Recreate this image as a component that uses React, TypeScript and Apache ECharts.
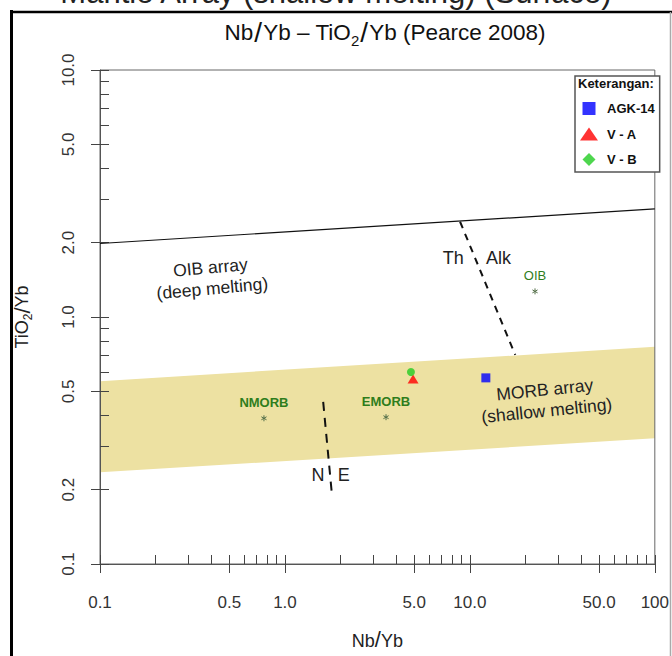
import React, { useEffect, useRef } from 'react';
import * as echarts from 'echarts';

const FONT = "'Liberation Sans', Arial, Helvetica, sans-serif";

// axis ticks
const xMajorTicks = [0.1, 0.5, 1, 5, 10, 50, 100];
const xMajorLabels = ['0.1', '0.5', '1.0', '5.0', '10.0', '50.0', '100'];
const xMinorTicks = [0.2, 0.3, 0.4, 0.6, 0.7, 0.8, 0.9, 2, 3, 4, 6, 7, 8, 9, 20, 30, 40, 60, 70, 80, 90];
const yMajorTicks = [0.1, 0.2, 0.5, 1, 2, 5, 10];
const yMajorLabels = ['0.1', '0.2', '0.5', '1.0', '2.0', '5.0', '10.0'];
const yMinorTicks = [0.3, 0.4, 0.6, 0.7, 0.8, 0.9, 3, 4, 6, 7, 8, 9];

// field boundaries
const morbUpper = [[0.1, 0.55], [100, 0.757]];
const morbLower = [[0.1, 0.235], [100, 0.323]];
const oibArray = [[0.1, 1.984], [100, 2.74]];
const thAlkDivider = [[8.85, 2.43], [17.6, 0.702]];
const neDivider = [[1.61, 0.453], [1.8, 0.187]];

// reference compositions
const refNames = ['NMORB', 'EMORB', 'OIB'];
const refPoints = [[0.77, 0.389], [3.52, 0.393], [22.5, 1.27]];

// samples
const agk14 = [[12.2, 0.567]];
const vA = [[4.93, 0.561]];
const vB = [[4.8, 0.599]];

// annotations
const annoTexts = ['OIB array\n(deep melting)', 'MORB array\n(shallow melting)', 'Th', 'Alk', 'N', 'E'];
const annoPoints = [[0.4, 1.44], [25.7, 0.461], [8.12, 1.73], [14.3, 1.73], [1.51, 0.229], [2.08, 0.229]];

const nearestLabel = (ticks: number[], labels: string[]) => (v: number) => {
  let best = 0;
  ticks.forEach((t, i) => {
    if (Math.abs(Math.log10(t) - Math.log10(v)) < Math.abs(Math.log10(ticks[best]) - Math.log10(v))) best = i;
  });
  return labels[best];
};

const axisColor = '#555';

function buildOption(): any {
  const baseX = { type: 'log', logBase: 10, min: 0.1, max: 100, gridIndex: 0, position: 'bottom', splitLine: { show: false }, minorTick: { show: false } };
  const baseY = { type: 'log', logBase: 10, min: 0.1, max: 10, gridIndex: 0, position: 'left', splitLine: { show: false }, minorTick: { show: false } };
  return {
    animation: false,
    backgroundColor: '#fff',
    grid: { left: 100, right: 8, top: 70, bottom: 92, show: true, borderColor: '#666', borderWidth: 1 },
    xAxis: [
      {
        ...baseX,
        name: '{a|Nb}{s|/}{a|Yb}',
        nameLocation: 'middle',
        nameGap: 64,
        nameTextStyle: {
          rich: {
            a: { fontFamily: FONT, fontSize: 18, color: '#222', verticalAlign: 'bottom' },
            s: { fontFamily: FONT, fontSize: 22, color: '#222', verticalAlign: 'bottom' },
          },
        },
        axisLine: { show: true, lineStyle: { color: axisColor, width: 1 } },
        axisTick: { show: true, customValues: xMajorTicks, inside: false, length: 9, lineStyle: { color: '#444', width: 1 } },
        axisLabel: { customValues: xMajorTicks, formatter: nearestLabel(xMajorTicks, xMajorLabels), margin: 30, fontFamily: FONT, fontSize: 17, color: '#333' },
      },
      {
        ...baseX,
        axisLine: { show: false },
        axisTick: { show: true, customValues: [...xMajorTicks, ...xMinorTicks], inside: true, length: 9, lineStyle: { color: '#444', width: 1 } },
        axisLabel: { show: false },
      },
    ],
    yAxis: [
      {
        ...baseY,
        name: '{a|TiO}{sub|2}{s|/}{a|Yb}',
        nameLocation: 'middle',
        nameGap: 66,
        nameTextStyle: {
          rich: {
            a: { fontFamily: FONT, fontSize: 18, color: '#222', verticalAlign: 'bottom', padding: [0, 0, 3, 0] },
            sub: { fontFamily: FONT, fontSize: 12, color: '#222', verticalAlign: 'bottom' },
            s: { fontFamily: FONT, fontSize: 22, color: '#222', verticalAlign: 'bottom', padding: [0, 0, 1, 0] },
          },
        },
        axisLine: { show: true, lineStyle: { color: axisColor, width: 1 } },
        axisTick: { show: true, customValues: yMajorTicks, inside: false, length: 9, lineStyle: { color: '#444', width: 1 } },
        axisLabel: { customValues: yMajorTicks, formatter: nearestLabel(yMajorTicks, yMajorLabels), rotate: 90, margin: 23, fontFamily: FONT, fontSize: 17, color: '#333' },
      },
      {
        ...baseY,
        axisLine: { show: false },
        axisTick: { show: true, customValues: [...yMajorTicks, ...yMinorTicks], inside: true, length: 9, lineStyle: { color: '#444', width: 1 } },
        axisLabel: { show: false },
      },
    ],
    legend: {
      orient: 'vertical',
      left: 575,
      top: 76,
      padding: [26, 5, 6, 5],
      itemWidth: 18,
      itemHeight: 13,
      itemGap: 12.5,
      borderColor: '#555',
      borderWidth: 1.5,
      backgroundColor: '#fff',
      selectedMode: false,
      textStyle: { fontFamily: FONT, fontSize: 13, fontWeight: 'bold', color: '#111', padding: [0, 0, 0, 4] },
      data: [
        { name: 'AGK-14', icon: 'path://M0,0L10,0L10,10L0,10Z' },
        { name: 'V - A', icon: 'triangle' },
        { name: 'V - B', icon: 'path://M5,0L10,5L5,10L0,5Z' },
      ],
    },
    graphic: [
      { type: 'line', shape: { x1: 11.5, y1: 10, x2: 11.5, y2: 660 }, style: { stroke: '#000', lineWidth: 3 } },
      { type: 'line', shape: { x1: 10, y1: 12, x2: 672, y2: 12 }, style: { stroke: '#000', lineWidth: 2.5 } },
      { type: 'line', shape: { x1: 670.5, y1: 12, x2: 670.5, y2: 660 }, style: { stroke: '#aaa', lineWidth: 1.5 } },
      {
        type: 'text', x: 336, y: 8,
        style: { text: 'Mantle Array (shallow melting) (Surface)', fontFamily: FONT, fontSize: 31, fill: '#222', align: 'center', verticalAlign: 'bottom' },
      },
      {
        type: 'text', x: 385, y: 33,
        style: {
          text: '{a|Nb}{s|/}{a|Yb – TiO}{sub|2}{s|/}{a|Yb (Pearce 2008)}',
          align: 'center', verticalAlign: 'middle',
          rich: {
            a: { fontFamily: FONT, fontSize: 22.5, fill: '#111', verticalAlign: 'bottom', padding: [0, 0, 4, 0] },
            sub: { fontFamily: FONT, fontSize: 15, fill: '#111', verticalAlign: 'bottom' },
            s: { fontFamily: FONT, fontSize: 28, fill: '#111', verticalAlign: 'bottom', padding: [0, 1, 1, 1] },
          },
        },
      },
      {
        type: 'text', left: 578, top: 77,
        style: { text: 'Keterangan:', fontFamily: FONT, fontSize: 13, fontWeight: 'bold', fill: '#111' },
        z: 100,
      },
    ],
    series: [
      {
        type: 'custom',
        name: 'MORB band',
        z: -1,
        silent: true,
        data: [...morbUpper, ...morbLower.slice().reverse()],
        renderItem: (params: any, api: any) => {
          if (params.dataIndex !== 0) return null;
          const pts = [...morbUpper, ...morbLower.slice().reverse()].map((d) => api.coord(d));
          return { type: 'polygon', shape: { points: pts }, style: { fill: '#EDE1A2' } };
        },
      },
      { type: 'line', name: 'OIB array', data: oibArray, symbol: 'none', lineStyle: { color: '#111', width: 1.2 }, z: 3, silent: true },
      { type: 'line', name: 'Th-Alk', data: thAlkDivider, symbol: 'none', lineStyle: { color: '#111', width: 2, type: [7, 6] }, z: 3, silent: true },
      { type: 'line', name: 'N-E', data: neDivider, symbol: 'none', lineStyle: { color: '#111', width: 2, type: [9, 7] }, z: 3, silent: true },
      {
        type: 'custom',
        name: 'annotations',
        data: annoPoints,
        z: 4,
        silent: true,
        renderItem: (params: any, api: any) => {
          const i = params.dataIndex;
          const p = api.coord([api.value(0), api.value(1)]);
          const rot = i === 0 ? 0.09 : i === 1 ? 0.1 : 0;
          return {
            type: 'text', x: p[0], y: p[1], rotation: rot,
            style: { text: annoTexts[i], fill: '#222', fontFamily: FONT, fontSize: i < 2 ? 17.5 : 18, align: 'center', verticalAlign: 'middle', lineHeight: 21 },
          };
        },
      },
      {
        type: 'custom',
        name: 'reference',
        data: refPoints,
        z: 4,
        silent: true,
        renderItem: (params: any, api: any) => {
          const i = params.dataIndex;
          const p = api.coord([api.value(0), api.value(1)]);
          const r = 3;
          const arms = [0, 60, 120].map((a) => {
            const rad = (a * Math.PI) / 180;
            return {
              type: 'line',
              shape: { x1: p[0] - r * Math.sin(rad), y1: p[1] - r * Math.cos(rad), x2: p[0] + r * Math.sin(rad), y2: p[1] + r * Math.cos(rad) },
              style: { stroke: '#55704a', lineWidth: 1 },
            };
          });
          return {
            type: 'group',
            children: [
              ...arms,
              {
                type: 'text', x: p[0], y: p[1] - 16,
                style: { text: refNames[i], fill: '#2f7d1c', fontFamily: FONT, fontSize: 13, fontWeight: i === 2 ? 'normal' : 'bold', align: 'center', verticalAlign: 'middle' },
              },
            ],
          };
        },
      },
      { type: 'scatter', name: 'AGK-14', data: agk14, symbol: 'rect', symbolSize: 9, itemStyle: { color: '#0000FF' }, z: 6 },
      { type: 'scatter', name: 'V - A', data: vA, symbol: 'triangle', symbolSize: [11, 9], itemStyle: { color: '#FF0000' }, z: 6 },
      { type: 'scatter', name: 'V - B', data: vB, symbol: 'circle', symbolSize: 8, itemStyle: { color: '#22CC22' }, z: 7 },
    ],
  };
}

export default function App() {
  const ref = useRef<HTMLDivElement>(null);
  useEffect(() => {
    if (!ref.current) return;
    const chart = echarts.init(ref.current, null, { renderer: 'svg' });
    chart.setOption(buildOption());
    return () => chart.dispose();
  }, []);
  return (
    <div
      ref={ref}
      style={{ position: 'fixed', left: 0, top: 0, width: 672, height: 656, background: '#fff' }}
    />
  );
}
